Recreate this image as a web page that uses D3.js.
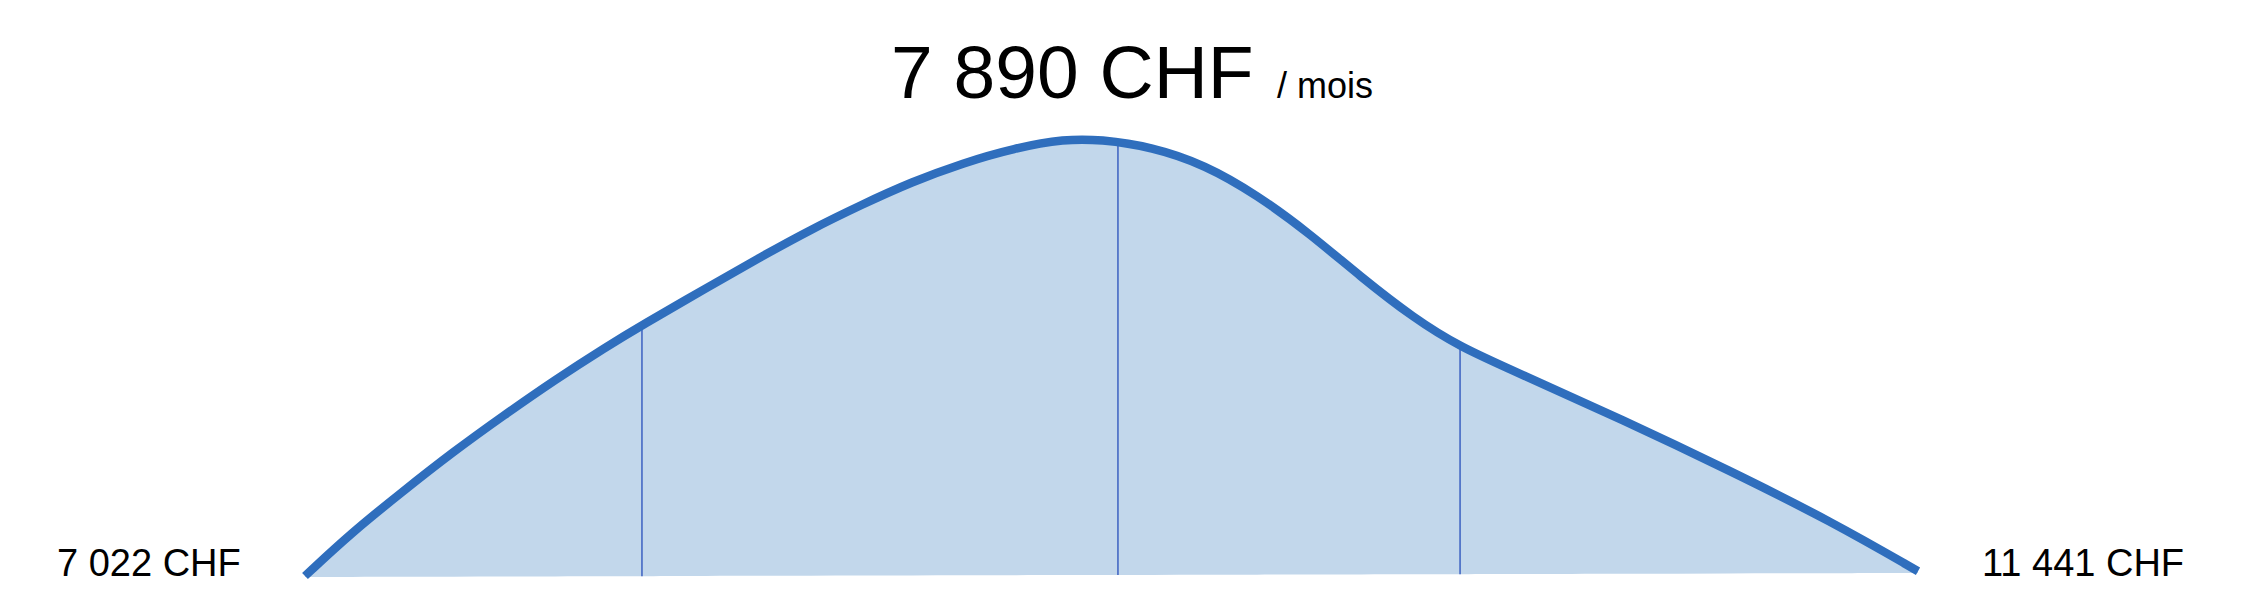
<!DOCTYPE html>
<html>
<head>
<meta charset="utf-8">
<script src="https://cdn.jsdelivr.net/npm/d3@7"></script>
<style>
  body { margin: 0; background: #fff; }
  svg { display: block; font-family: "Liberation Sans", Arial, Helvetica, sans-serif; }
  .curve-area { fill: #c2d7eb; }
  .curve-line { fill: none; stroke: #2f6ebd; stroke-width: 8.5; }
  .quartile { stroke: #4468c4; stroke-width: 1.6; }
  .title { font-size: 75px; fill: #000; }
  .unit { font-size: 36px; fill: #000; }
  .end-label { font-size: 38px; fill: #000; }
</style>
</head>
<body>
<svg width="2252" height="612"></svg>
<script>
// schematic distribution: position along the range (0-100) and relative density (0-100)
const position = [0, 2.85, 6.01, 9.18, 12.34, 15.5, 18.66, 20.89, 24.98, 28.15, 31.31, 34.47, 37.63, 40.79, 43.96, 47.12, 49.29, 52.51, 55.8, 59.02, 62.24, 65.47, 68.75, 71.61, 75.2, 81.71, 88.22, 94.67, 100]
const density = [0, 9.8, 19.2, 28.4, 36.8, 44.9, 52.4, 57.4, 66.1, 72.8, 79.2, 84.9, 90.2, 94.5, 97.9, 100, 99.9, 98.2, 94.1, 87.2, 78.5, 68.4, 59.0, 52.4, 46.5, 35.7, 24.3, 12.4, 1.1]

// quartile markers (position and height where they meet the curve)
const quartilePos = [20.89, 50.4, 71.61]
const quartileHeight = [57.4, 99.0, 52.4]

const medianLabel = "7 890 CHF"
const unitLabel = "/ mois"
const minLabel = "7 022 CHF"
const maxLabel = "11 441 CHF"

const svg = d3.select("svg")
const width = +svg.attr("width")
const height = +svg.attr("height")

const data = position.map((p, i) => ({ x: p, y: density[i] }))

const xScale = d3.scaleLinear().domain([0, 100]).range([305, 1918])
const yScale = d3.scaleLinear().domain([0, 100]).range([576, 139])

// bottom edge runs straight from the first to the last point
const baseY = d3.scaleLinear()
  .domain([0, 100])
  .range([yScale(data[0].y) + 1, yScale(0) - 3])

const curve = d3.curveBasis

const area = d3.area()
  .x((d) => xScale(d.x))
  .y0((d) => baseY(d.x))
  .y1((d) => yScale(d.y))
  .curve(curve)

const line = d3.line()
  .x((d) => xScale(d.x))
  .y((d) => yScale(d.y))
  .curve(curve)

svg.append("path")
  .datum(data)
  .attr("class", "curve-area")
  .attr("d", area)

svg.selectAll(".quartile")
  .data(quartilePos)
  .join("line")
  .attr("class", "quartile")
  .attr("x1", (d) => xScale(d))
  .attr("x2", (d) => xScale(d))
  .attr("y1", (d) => baseY(d))
  .attr("y2", (d, i) => yScale(quartileHeight[i]))

svg.append("path")
  .datum(data)
  .attr("class", "curve-line")
  .attr("d", line)

//Title
const title = svg.append("text")
  .attr("x", 891)
  .attr("y", 98)
title.append("tspan").attr("class", "title").text(medianLabel)
title.append("tspan").attr("class", "unit").attr("x", 1277).text(unitLabel)

//end labels
svg.append("text")
  .attr("class", "end-label")
  .attr("x", 57)
  .attr("y", 576)
  .text(minLabel)

svg.append("text")
  .attr("class", "end-label")
  .attr("x", 1982)
  .attr("y", 576)
  .text(maxLabel)
</script>
</body>
</html>
